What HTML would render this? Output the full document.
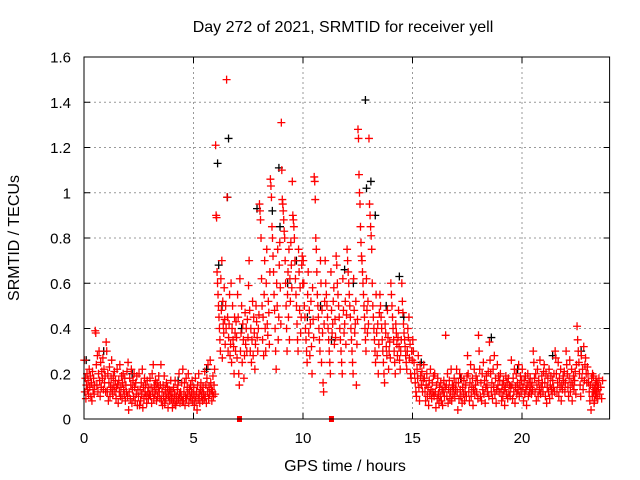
<!DOCTYPE html>
<html><head><meta charset="utf-8"><style>
body{margin:0;background:#fff}
svg{display:block;font-family:"Liberation Sans",sans-serif}
</style></head><body>
<svg id="chart" width="640" height="480" viewBox="0 0 640 480" xmlns="http://www.w3.org/2000/svg">
<rect width="640" height="480" fill="#fff"/>
<g id="grid"></g>
<g id="axes"></g>
<g id="black-series"></g>
<g id="red-series"></g>
<rect x="84" y="57" width="525.6" height="362" fill="none" stroke="#000" stroke-width="1"/>
<text x="343" y="32" font-size="16" text-anchor="middle">Day 272 of 2021, SRMTID for receiver yell</text>
<text x="345" y="471" font-size="16" text-anchor="middle">GPS time / hours</text>
<text transform="translate(19,238) rotate(-90)" font-size="16" text-anchor="middle">SRMTID / TECUs</text>
</svg>
<script>
const xTicks=[0,5,10,15,20];
const yTicks=[0,0.2,0.4,0.6,0.8,1,1.2,1.4,1.6];
const yTickLabels=["0","0.2","0.4","0.6","0.8","1","1.2","1.4","1.6"];
const redBins=[0,0.5,1,1.5,2,2.5,3,3.5,4,4.5,5,5.5,6,6.5,7,7.5,8,8.5,9,9.5,10,10.5,11,11.5,12,12.5,13,13.5,14,14.5,15,15.5,16,16.5,17,17.5,18,18.5,19,19.5,20,20.5,21,21.5,22,22.5,23,23.2];
const redValues=[
[0.26,0.12,0.18,0.09,0.15,0.2,0.13,0.17,0.11,0.22,0.14,0.19,0.1,0.16,0.08,0.21,0.13,0.18,0.11,0.15],
[0.39,0.38,0.24,0.15,0.28,0.12,0.2,0.3,0.17,0.1,0.25,0.14,0.21,0.18,0.27,0.13,0.22,0.16,0.19,0.12],
[0.34,0.3,0.12,0.2,0.08,0.16,0.23,0.1,0.14,0.18,0.26,0.13,0.11,0.19,0.15,0.21,0.12,0.17,0.09,0.14],
[0.22,0.15,0.07,0.17,0.12,0.24,0.1,0.14,0.19,0.09,0.16,0.2,0.13,0.11,0.18,0.08,0.15,0.12,0.21,0.1],
[0.25,0.04,0.12,0.18,0.09,0.15,0.22,0.07,0.13,0.17,0.1,0.2,0.14,0.08,0.16,0.11,0.19,0.06,0.13,0.1],
[0.2,0.06,0.13,0.08,0.16,0.11,0.22,0.05,0.14,0.09,0.18,0.12,0.15,0.1,0.07,0.17,0.12,0.09,0.14,0.11],
[0.18,0.1,0.14,0.07,0.2,0.12,0.24,0.09,0.15,0.11,0.17,0.13,0.08,0.16,0.1,0.14,0.19,0.12,0.09,0.15],
[0.24,0.08,0.12,0.06,0.15,0.1,0.19,0.07,0.13,0.09,0.16,0.11,0.14,0.05,0.1,0.13,0.08,0.12,0.17,0.09],
[0.12,0.05,0.09,0.14,0.07,0.11,0.17,0.06,0.1,0.08,0.13,0.15,0.09,0.2,0.11,0.07,0.12,0.1,0.16,0.08],
[0.22,0.08,0.12,0.16,0.06,0.1,0.18,0.09,0.14,0.11,0.2,0.07,0.13,0.1,0.15,0.09,0.12,0.17,0.08,0.11],
[0.14,0.06,0.1,0.18,0.08,0.12,0.04,0.15,0.09,0.2,0.11,0.07,0.13,0.16,0.1,0.12,0.08,0.14,0.11,0.09],
[0.21,0.1,0.15,0.07,0.18,0.12,0.24,0.09,0.14,0.11,0.26,0.16,0.13,0.08,0.12,0.19,0.1,0.15,0.22,0.11],
[1.21,0.9,0.89,0.65,0.6,0.55,0.5,0.45,0.4,0.35,0.3,0.62,0.48,0.7,0.27,0.52,0.42,0.38,0.58,0.44,0.33,0.5,0.4],
[1.5,0.98,0.45,0.3,0.36,0.42,0.55,0.28,0.33,0.6,0.25,0.4,0.5,0.35,0.32,0.2,0.45,0.38,0.3,0.43,0.36,0.27],
[0.55,0.45,0.2,0.15,0.62,0.3,0.38,0.5,0.25,0.42,0.35,0.18,0.28,0.47,0.33,0.4,0.3,0.44,0.36],
[0.59,0.7,0.48,0.3,0.4,0.25,0.35,0.52,0.28,0.45,0.38,0.22,0.33,0.5,0.43,0.36,0.3,0.4,0.46],
[0.95,0.92,0.88,0.8,0.62,0.5,0.35,0.45,0.28,0.55,0.7,0.4,0.3,0.6,0.75,0.42,0.37,0.52,0.47,0.33,0.65],
[1.06,1.03,0.98,0.85,0.8,0.72,0.65,0.55,0.48,0.4,0.3,0.22,0.6,0.5,0.75,0.35,0.45,0.68,0.78,0.58,0.42],
[1.31,1.1,0.97,0.95,0.92,0.88,0.83,0.8,0.7,0.6,0.5,0.4,0.3,0.55,0.65,0.45,0.75,0.35,0.62,0.52,0.78,0.68,0.58],
[1.05,0.9,0.88,0.85,0.8,0.7,0.62,0.55,0.5,0.42,0.35,0.3,0.75,0.65,0.48,0.58,0.38,0.45,0.68,0.72,0.6],
[0.7,0.6,0.5,0.45,0.4,0.35,0.3,0.25,0.55,0.65,0.38,0.48,0.28,0.42,0.52,0.32,0.2,0.58,0.44,0.36],
[1.07,1.05,0.97,0.8,0.75,0.65,0.55,0.5,0.45,0.4,0.35,0.3,0.7,0.6,0.25,0.48,0.38,0.16,0.12,0.42,0.52],
[0.7,0.6,0.55,0.5,0.45,0.4,0.35,0.3,0.25,0.2,0.65,0.48,0.38,0.42,0.52,0.58,0.33,0.44,0.36],
[0.72,0.68,0.6,0.55,0.5,0.45,0.4,0.35,0.3,0.25,0.2,0.62,0.48,0.38,0.42,0.52,0.33,0.46],
[0.75,0.7,0.65,0.6,0.55,0.5,0.45,0.4,0.35,0.3,0.25,0.2,0.62,0.48,0.38,0.42,0.52,0.15,0.33,0.44],
[1.28,1.24,1.08,1.0,0.95,0.85,0.78,0.72,0.7,0.65,0.6,0.55,0.5,0.45,0.4,0.35,0.3,0.62,0.48,0.38,0.52,0.42],
[1.24,0.95,0.9,0.85,0.81,0.75,0.6,0.5,0.45,0.4,0.35,0.3,0.25,0.55,0.38,0.28,0.42,0.2,0.33,0.47],
[0.55,0.5,0.45,0.4,0.35,0.3,0.25,0.2,0.16,0.42,0.38,0.32,0.28,0.48,0.36,0.22,0.3,0.34,0.27],
[0.6,0.55,0.5,0.45,0.4,0.35,0.3,0.25,0.2,0.42,0.38,0.33,0.28,0.36,0.48,0.32,0.26,0.22,0.3,0.35],
[0.6,0.52,0.47,0.42,0.38,0.35,0.32,0.28,0.25,0.22,0.3,0.4,0.36,0.45,0.27,0.33,0.2,0.18,0.3,0.26],
[0.35,0.3,0.25,0.2,0.16,0.12,0.1,0.22,0.18,0.28,0.14,0.08,0.24,0.19,0.15,0.21,0.12,0.17],
[0.24,0.18,0.12,0.08,0.15,0.2,0.1,0.14,0.06,0.17,0.11,0.22,0.13,0.09,0.16,0.12,0.19,0.1],
[0.2,0.12,0.05,0.15,0.09,0.18,0.11,0.07,0.14,0.1,0.16,0.08,0.13,0.06,0.12,0.17,0.1,0.14],
[0.37,0.15,0.1,0.2,0.07,0.13,0.17,0.09,0.12,0.22,0.08,0.15,0.11,0.14,0.18,0.1,0.13,0.16],
[0.22,0.12,0.04,0.16,0.09,0.2,0.13,0.1,0.18,0.07,0.14,0.11,0.17,0.08,0.12,0.15,0.1,0.19],
[0.28,0.2,0.12,0.08,0.16,0.24,0.1,0.14,0.18,0.06,0.13,0.22,0.11,0.15,0.19,0.12,0.17,0.09],
[0.37,0.3,0.22,0.1,0.16,0.08,0.2,0.13,0.25,0.11,0.17,0.07,0.14,0.19,0.15,0.12,0.21,0.1],
[0.34,0.26,0.2,0.12,0.16,0.09,0.22,0.14,0.28,0.11,0.18,0.07,0.13,0.24,0.15,0.19,0.12,0.17],
[0.2,0.12,0.08,0.15,0.1,0.17,0.13,0.06,0.14,0.19,0.11,0.16,0.09,0.18,0.12,0.15,0.1,0.14],
[0.26,0.15,0.09,0.18,0.12,0.22,0.07,0.14,0.2,0.11,0.16,0.13,0.24,0.1,0.15,0.19,0.12,0.17],
[0.22,0.14,0.08,0.17,0.11,0.19,0.13,0.06,0.15,0.2,0.1,0.16,0.12,0.18,0.14,0.11,0.16,0.13],
[0.3,0.25,0.18,0.12,0.2,0.08,0.15,0.22,0.1,0.17,0.13,0.26,0.11,0.14,0.19,0.16,0.12,0.21],
[0.24,0.16,0.1,0.2,0.07,0.14,0.18,0.12,0.22,0.09,0.15,0.19,0.13,0.11,0.17,0.14,0.2,0.12],
[0.3,0.27,0.2,0.12,0.16,0.25,0.1,0.18,0.14,0.22,0.08,0.15,0.13,0.19,0.17,0.21,0.12,0.16],
[0.3,0.24,0.2,0.14,0.1,0.18,0.26,0.12,0.16,0.22,0.08,0.15,0.19,0.13,0.17,0.21,0.11,0.24],
[0.41,0.35,0.3,0.25,0.2,0.15,0.1,0.28,0.18,0.22,0.13,0.32,0.17,0.24,0.27,0.2,0.16,0.23],
[0.2,0.16,0.12,0.08,0.15,0.04,0.18,0.1,0.14,0.19,0.07,0.13,0.11,0.17,0.12,0.15,0.09,0.14],
[0.2,0.12,0.08,0.15,0.1,0.16,0.13,0.18,0.11,0.14,0.09,0.17]
];
const blackT=[0.1,0.9,2.2,4.3,5.6,6.1,6.15,6.3,6.55,6.6,7.2,7.9,8.6,8.9,8.95,9.3,9.7,10.2,10.8,11.3,11.9,12.3,12.85,12.9,13.1,13.3,13.8,14.4,14.6,15.4,17.2,18.6,19.8,21.4,22.7];
const blackV=[0.26,0.3,0.2,0.17,0.22,1.13,0.68,0.5,0.98,1.24,0.4,0.93,0.92,1.11,0.85,0.6,0.7,0.45,0.5,0.35,0.66,0.6,1.41,1.02,1.05,0.9,0.5,0.63,0.45,0.25,0.18,0.36,0.22,0.28,0.3];
const outlierT=[7.1,11.3];

const X0=84,XW=525.6,Y0=419,YH=362;
const xs=h=>X0+h/24*XW;
const ys=v=>Y0-v/1.6*YH;
const NS='http://www.w3.org/2000/svg';
const grid=document.getElementById('grid'),axes=document.getElementById('axes');
function mk(tag,attrs,parent){const e=document.createElementNS(NS,tag);for(const k in attrs)e.setAttribute(k,attrs[k]);parent.appendChild(e);return e;}
xTicks.forEach(t=>{
  const x=xs(t);
  if(t>0){const g=mk('line',{x1:x,x2:x,y1:Y0,y2:57,stroke:'#999','stroke-dasharray':'2,3'},grid);
  
  }
  mk('line',{x1:x,x2:x,y1:Y0,y2:Y0-6,stroke:'#000'},axes);
  mk('line',{x1:x,x2:x,y1:57,y2:63,stroke:'#000'},axes);
  const l=mk('text',{x:x,y:443,'font-size':15,'text-anchor':'middle'},axes);
  l.textContent=String(t);
  
  
});
yTicks.forEach((t,i)=>{
  const y=ys(t);
  if(i>0&&i<yTicks.length-1){const g=mk('line',{x1:X0,x2:X0+XW,y1:y,y2:y,stroke:'#999','stroke-dasharray':'2,3'},grid);
  
  }
  mk('line',{x1:X0,x2:X0+6,y1:y,y2:y,stroke:'#000'},axes);
  mk('line',{x1:X0+XW,x2:X0+XW-6,y1:y,y2:y,stroke:'#000'},axes);
  const l=mk('text',{x:71,y:y+5.5,'font-size':15,'text-anchor':'end'},axes);
  l.textContent=yTickLabels[i];
  
  
});
function plus(h,v,color,parent){
  const x=xs(h),y=ys(v);
  const p=mk('path',{d:`M${x-4},${y}H${x+4}M${x},${y-4}V${y+4}`,stroke:color,'stroke-width':1.3,fill:'none'},parent);
  
  
}
const bg=document.getElementById('black-series'),rg=document.getElementById('red-series');
blackT.forEach((t,i)=>plus(t,blackV[i],'#000',bg));
redBins.forEach((b,i)=>{
  const vals=redValues[i],n=vals.length;
  vals.forEach((v,j)=>plus(b+(j+0.5)*0.5/n,v,'#ff0000',rg));
});
outlierT.forEach(t=>{
  const r=mk('rect',{x:xs(t)-2.5,y:Y0-3,width:5,height:6,fill:'#ff0000'},rg);
  
  
});
</script>
</body></html>
